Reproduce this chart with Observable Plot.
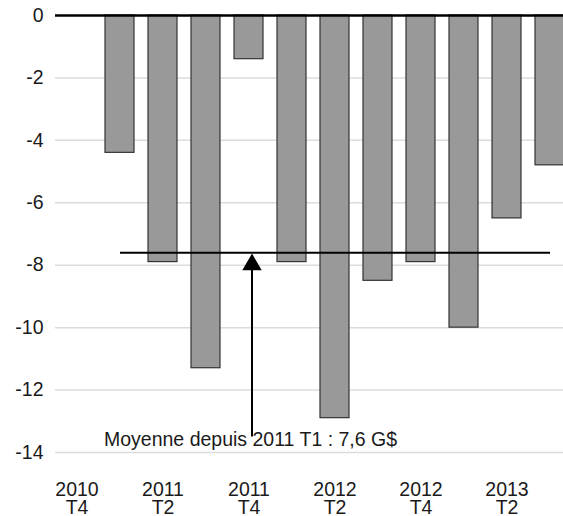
<!DOCTYPE html>
<html>
<head>
<meta charset="utf-8">
<script src="https://cdn.jsdelivr.net/npm/d3@7"></script>
<script src="https://cdn.jsdelivr.net/npm/@observablehq/plot@0.6"></script>
<style>
  html, body { margin: 0; padding: 0; background: white; }
  #chart { width: 563px; height: 516px; overflow: hidden; }
</style>
</head>
<body>
<div id="chart"></div>
<script>
// Categories (quarters) and values (G$)
const categories = ["2010 T4", "2011 T1", "2011 T2", "2011 T3", "2011 T4", "2012 T1", "2012 T2", "2012 T3", "2012 T4", "2013 T1", "2013 T2", "2013 T3"];
const values = [null, -4.4, -7.9, -11.3, -1.4, -7.9, -12.9, -8.5, -7.9, -10.0, -6.5, -4.8];
const labeledCategories = ["2010 T4", "2011 T2", "2011 T4", "2012 T2", "2012 T4", "2013 T2"];
const yTicks = [0, -2, -4, -6, -8, -10, -12, -14];
const meanValue = -7.6;
const meanStart = "2011 T1";
const meanEnd = "2013 T3";
const arrowCategory = "2011 T4";
const arrowBottom = -13.1;
const annotationY = -13.8;
const annotationText = "Moyenne depuis 2011 T1 : 7,6 G$";

const data = categories.map((c, i) => ({cat: c, value: values[i]})).filter(d => d.value != null);
const font = "'Liberation Sans', Arial, Helvetica, sans-serif";
const fs = 19.5;

const chart = Plot.plot({
  width: 563,
  height: 516,
  marginTop: 15,
  marginBottom: 64,
  marginLeft: 55,
  marginRight: 0,
  style: {fontFamily: font, fontSize: fs + "px", color: "#1a1a1a", background: "white"},
  x: {domain: categories, range: [55, 571], paddingInner: 0.33, paddingOuter: 0.165, align: 0.5},
  y: {domain: [-14, 0], range: [452, 15]},
  marks: [
    Plot.ruleY(yTicks.filter(d => d !== 0), {stroke: "#dcdcdc", strokeWidth: 1.5}),
    Plot.barY(data, {x: "cat", y: "value", fill: "#999999", stroke: "#333333", strokeWidth: 1.2}),
    Plot.ruleY([0], {stroke: "#000", strokeWidth: 2.5}),
    Plot.link([meanValue], {x1: () => meanStart, x2: () => meanEnd, y1: d => d, y2: d => d, stroke: "#000", strokeWidth: 2}),
    Plot.link([meanValue], {x1: () => arrowCategory, x2: () => arrowCategory, y1: () => arrowBottom, y2: d => d, dx: 3, dy: 12, stroke: "#000", strokeWidth: 2}),
    Plot.dot([meanValue], {x: () => arrowCategory, y: d => d, symbol: "triangle", r: 7.2, fill: "#000", stroke: "none", dx: 3, dy: 12}),
    Plot.text([annotationText], {x: () => meanStart, y: () => annotationY, text: d => d, textAnchor: "start", lineAnchor: "bottom", dx: -16, fontSize: fs, fill: "#1a1a1a"}),
    Plot.axisY({ticks: yTicks, tickSize: 0, tickPadding: 12, tickFormat: d => String(d), fontSize: fs, label: null}),
    Plot.axisX({tickSize: 0, tickPadding: 30, tickFormat: d => labeledCategories.includes(d) ? d.replace(" ", "\n") : "", fontSize: fs, lineHeight: 0.95, label: null})
  ]
});
document.getElementById("chart").appendChild(chart);
</script>
</body>
</html>
